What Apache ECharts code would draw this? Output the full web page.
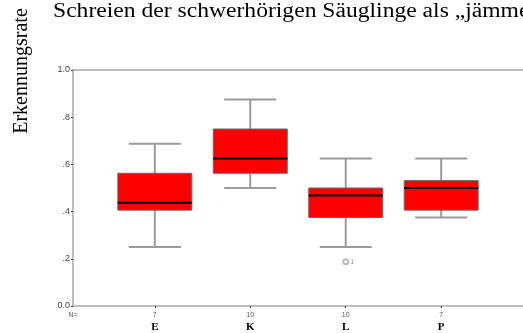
<!DOCTYPE html>
<html><head><meta charset="utf-8">
<script src="https://cdn.jsdelivr.net/npm/echarts@6/dist/echarts.min.js"></script>
<style>html,body{margin:0;padding:0;background:#fff}#c{width:523px;height:333px}</style>
</head><body><div id="c"></div>
<script>
const categories = ['E', 'K', 'L', 'P'];
const counts = ['7', '10', '10', '7'];
// [whiskerLow, Q1, median, Q3, whiskerHigh]
const boxValues = [
  [0.25, 0.40625, 0.4375, 0.5625, 0.6875],
  [0.5, 0.5625, 0.625, 0.75, 0.875],
  [0.25, 0.375, 0.46875, 0.5, 0.625],
  [0.375, 0.40625, 0.5, 0.53125, 0.625]
];
const outliers = [[3, 0.1875, '1']];
const yTicks = [0, 0.2, 0.4, 0.6, 0.8, 1.0];
const yTickLabels = ['0.0', '.2', '.4', '.6', '.8', '1.0'];
const titleText = 'Schreien der schwerhörigen Säuglinge als „jämmerlich“';
const yName = 'Erkennungsrate';

const xMin = 1 - 0.857, xMax = categories.length + 0.857;
const chart = echarts.init(document.getElementById('c'));
const boxData = boxValues.map((v, i) => [i + 1].concat(v));
const axisCol = '#a9a9a9';

chart.setOption({
  animation: false,
  graphic: [{
    type: 'text', x: 53, y: 2, scaleX: 1.18,
    style: {text: titleText, font: '20px "Liberation Serif"', fill: '#000', textVerticalAlign: 'top'}
  }, {
    type: 'text', x: 22, y: 71, rotation: Math.PI / 2,
    style: {text: yName, font: '20px "Liberation Serif"', fill: '#000', textAlign: 'center', textVerticalAlign: 'middle'}
  }],
  grid: {left: 73, top: 70, width: 451, height: 236},
  xAxis: [{
    type: 'value', min: xMin, max: xMax,
    splitLine: {show: false},
    axisLine: {lineStyle: {color: axisCol, width: 1.5}},
    axisTick: {show: true, customValues: [1, 2, 3, 4], length: 2, lineStyle: {color: '#333'}},
    axisLabel: {
      customValues: [xMin, 1, 2, 3, 4],
      margin: 4,
      formatter: function (v) {
        if (Math.abs(v - xMin) < 1e-6) return '{n|N=}';
        const i = Math.round(v) - 1;
        return '{n|' + counts[i] + '}\n{c|' + categories[i] + '}';
      },
      rich: {
        n: {fontFamily: 'Liberation Sans', fontSize: 7, color: '#555', lineHeight: 11},
        c: {fontFamily: 'Liberation Serif', fontSize: 11, fontWeight: 'bold', color: '#000', lineHeight: 13}
      }
    }
  }, {
    type: 'value', position: 'top', min: xMin, max: xMax,
    splitLine: {show: false}, axisTick: {show: false}, axisLabel: {show: false},
    axisLine: {show: true, lineStyle: {color: axisCol, width: 1.5}}
  }],
  yAxis: {
    type: 'value', min: 0, max: 1, interval: 0.2,
    splitLine: {show: false},
    axisLine: {show: true, lineStyle: {color: axisCol, width: 1.5}},
    axisTick: {show: true, length: 2, lineStyle: {color: '#444'}},
    axisLabel: {
      margin: 3, fontFamily: 'Liberation Sans', fontSize: 9, color: '#444',
      formatter: function (v) {
        const i = yTicks.findIndex(t => Math.abs(t - v) < 1e-6);
        return i >= 0 ? yTickLabels[i] : '';
      }
    }
  },
  series: [{
    type: 'custom',
    data: boxData,
    renderItem: function (params, api) {
      const x = api.value(0);
      const band = api.size([1, 0])[0];
      const bw = band * 0.775, cw = band * 0.545;
      const pLo = api.coord([x, api.value(1)]);
      const pQ1 = api.coord([x, api.value(2)]);
      const pMed = api.coord([x, api.value(3)]);
      const pQ3 = api.coord([x, api.value(4)]);
      const pHi = api.coord([x, api.value(5)]);
      const cx = pLo[0];
      const wStyle = {stroke: '#9a9a9a', lineWidth: 2};
      return {
        type: 'group',
        children: [
          {type: 'line', shape: {x1: cx, y1: pLo[1], x2: cx, y2: pQ1[1]}, style: wStyle},
          {type: 'line', shape: {x1: cx, y1: pQ3[1], x2: cx, y2: pHi[1]}, style: wStyle},
          {type: 'line', shape: {x1: cx - cw / 2, y1: pLo[1], x2: cx + cw / 2, y2: pLo[1]}, style: wStyle},
          {type: 'line', shape: {x1: cx - cw / 2, y1: pHi[1], x2: cx + cw / 2, y2: pHi[1]}, style: wStyle},
          {type: 'rect', shape: {x: cx - bw / 2, y: pQ3[1], width: bw, height: pQ1[1] - pQ3[1]},
            style: {fill: '#ff0000', stroke: '#6a6a6a', lineWidth: 1}},
          {type: 'line', shape: {x1: cx - bw / 2, y1: pMed[1], x2: cx + bw / 2, y2: pMed[1]},
            style: {stroke: '#000', lineWidth: 2}}
        ]
      };
    }
  }, {
    type: 'scatter',
    data: outliers.map(o => [o[0], o[1], o[2]]),
    symbol: 'emptyCircle', symbolSize: 5,
    itemStyle: {color: '#aaa', borderColor: '#aaa', borderWidth: 0.8},
    label: {show: true, position: 'right', distance: 1, formatter: p => p.data[2],
      fontFamily: 'Liberation Sans', fontSize: 7, color: '#777'}
  }]
});
</script></body></html>
